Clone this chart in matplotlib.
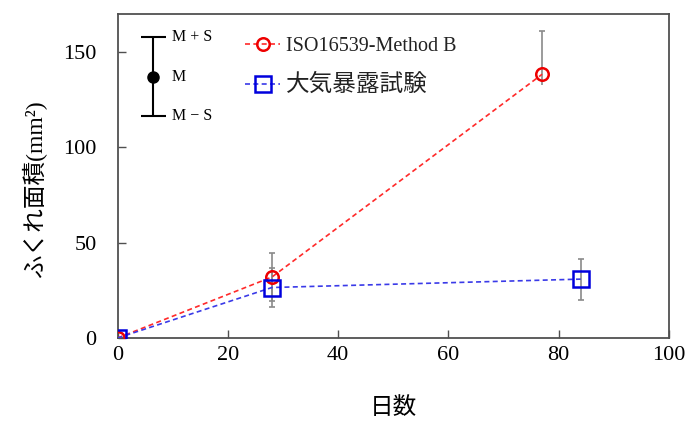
import matplotlib
matplotlib.use("Agg")
import matplotlib.pyplot as plt

plt.rcParams['font.family'] = ['Liberation Serif', 'Noto Sans CJK JP']
plt.rcParams['axes.unicode_minus'] = False

# データ
iso_days = [0, 28, 77]
iso_area = [0, 32, 138.4]
iso_err_lo = [0, 12.5, 5.8]
iso_err_hi = [0, 12.5, 22.8]

air_days = [0, 28, 84]
air_area = [0, 26.5, 30.9]
air_err = [0, 10.3, 10.7]

iso_label = "ISO16539-Method B"
air_label = "大気暴露試験"

fig = plt.figure(figsize=(6.88, 4.23), dpi=100)
ax = fig.add_axes([0.1708, 0.2009, 0.8016, 0.766])

ecol = "#8a8a8a"
# 誤差棒（ISO 77日目は下側キャップなし）
ax.errorbar(iso_days[:2], iso_area[:2], yerr=[iso_err_lo[:2], iso_err_hi[:2]],
            fmt="none", ecolor=ecol, elinewidth=1.2, capsize=2.5, capthick=1.2, zorder=2)
_, caps, _ = ax.errorbar(iso_days[2:], iso_area[2:], yerr=[iso_err_lo[2:], iso_err_hi[2:]],
                         fmt="none", ecolor=ecol, elinewidth=1.2, capsize=2.5,
                         capthick=1.2, zorder=2)
caps[0].set_visible(False)
ax.errorbar(air_days, air_area, yerr=air_err, fmt="none", ecolor=ecol,
            elinewidth=1.2, capsize=2.5, capthick=1.2, zorder=2)

ax.plot(iso_days, iso_area, color="#ff2a2a", linestyle=(0, (3, 2)), lw=1.2,
        marker="o", ms=9, mfc="none", mec="#ee0000", mew=1.8, label=iso_label, zorder=3)
ax.plot(air_days, air_area, color="#3a3ae8", linestyle=(0, (3, 2)), lw=1.2,
        marker="s", ms=11, mfc="none", mec="#0000dd", mew=1.8, label=air_label, zorder=3)

ax.set_xlim(0, 100)
ax.set_ylim(0, 170)
ax.set_xticks([0, 20, 40, 60, 80, 100])
ax.set_yticks([0, 50, 100, 150])

for s in ["top", "right", "left", "bottom"]:
    ax.spines[s].set_color("#505050")
    ax.spines[s].set_linewidth(1.3)
ax.tick_params(axis="x", direction="in", length=6, width=1, color="#505050",
               labelsize=16, pad=6)
ax.tick_params(axis="y", direction="in", length=6, width=1, color="#505050",
               labelsize=16, pad=15)
ax.xaxis.set_ticks_position("bottom")
ax.yaxis.set_ticks_position("left")

ax.set_xlabel("日数", fontsize=17, labelpad=23)
ax.set_ylabel("ふくれ面積(mm²)", fontsize=17)
ax.yaxis.set_label_coords(-0.128, 0.46)

leg = ax.legend(loc="upper left", bbox_to_anchor=(0.19, 1.0), frameon=False,
                fontsize=14.5, handlelength=1.7, handletextpad=0.3,
                labelspacing=0.85, borderaxespad=0.75)
leg.get_texts()[1].set_fontsize(17)
for t in leg.get_texts():
    t.set_color("#222222")

# M±S の凡例
ax.errorbar([0.064], [0.807], yerr=[0.122], transform=ax.transAxes, fmt="o",
            color="black", ms=8, elinewidth=1.5, capsize=9, capthick=1.5,
            clip_on=False, zorder=4)
ax.text(0.098, 0.929, "M + S", transform=ax.transAxes, fontsize=11.5,
        va="center", ha="left")
ax.text(0.098, 0.807, "M", transform=ax.transAxes, fontsize=11.5,
        va="center", ha="left")
ax.text(0.098, 0.685, "M − S", transform=ax.transAxes, fontsize=11.5,
        va="center", ha="left")

fig.savefig("out.png", dpi=100)
